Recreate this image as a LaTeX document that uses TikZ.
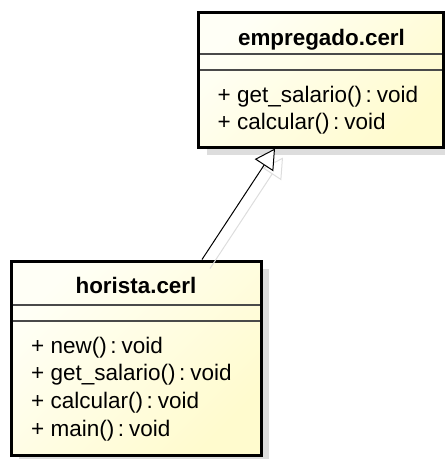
\documentclass[tikz,border=0pt]{standalone}
\usepackage{fontspec}
\setmainfont{Liberation Sans}
\usetikzlibrary{arrows.meta}

\begin{document}
\begin{tikzpicture}[x=1pt, y=-1pt,
    classbox/.style={draw=black, line width=3pt, top color=uml_light, bottom color=uml_yellow, shading angle=45},
    divider/.style={draw=uml_line, line width=1.5pt},
    classname/.style={anchor=base, font=\fontsize{22.4}{26}\selectfont\bfseries},
    member/.style={anchor=base west, inner sep=0pt, font=\fontsize{22.5}{26}\selectfont},
    generalization/.style={draw=black, line width=1pt, -{Triangle[fill=white, length=20pt, width=22pt]}},
    generalization shadow/.style={draw=uml_shadow, line width=1pt, -{Triangle[open, length=20pt, width=22pt]}}]
    \definecolor{uml_light}{HTML}{FFFFF6}
    \definecolor{uml_yellow}{HTML}{FFFBCE}
    \definecolor{uml_shadow}{HTML}{DDDDDD}
    \definecolor{uml_line}{HTML}{4A4A4A}
    %\draw[help lines, step=50] (0,0) grid (445,459);
    \useasboundingbox (0,0) rectangle (445,459);
    \path[fill=uml_shadow] (206.5,20) rectangle (445,155);
    \path[fill=uml_shadow] (19,269) rectangle (269,459);

    \node[classbox, minimum width=244.5pt, minimum height=135pt] (empregado) at (320.75,79.5) {};
    \draw[divider] (200,54) -- (441.5,54);
    \draw[divider] (200,70) -- (441.5,70);
    \node[classname] (empregadoName) at (321.5,45) {empregado.cerl};
    \node[member] (empregadoOp1) at (217.5,102) {+ get\_salario()\kern3.5pt:\kern5pt void};
    \node[member] (empregadoOp2) at (217.5,129) {+ calcular()\kern3.5pt:\kern5pt void};

    \node[classbox, minimum width=250pt, minimum height=194pt] (horista) at (136,358) {};
    \draw[divider] (12.5,305) -- (259.5,305);
    \draw[divider] (12.5,321) -- (259.5,321);
    \node[classname] (horistaName) at (136,293) {horista.cerl};
    \node[member] (horistaOp1) at (31,353) {+ new()\kern3.5pt:\kern5pt void};
    \node[member] (horistaOp2) at (31,380.7) {+ get\_salario()\kern3.5pt:\kern5pt void};
    \node[member] (horistaOp3) at (31,408.4) {+ calcular()\kern3.5pt:\kern5pt void};
    \node[member] (horistaOp4) at (31,436) {+ main()\kern3.5pt:\kern5pt void};

    \draw[generalization shadow] ([shift={(8,9)}]horista.north -| 202,0) -- ([shift={(8,9)}]empregado.south -| 275,0);
    \draw[generalization] (horista.north -| 202,0) -- (empregado.south -| 275,0);

\end{tikzpicture}
\end{document}
